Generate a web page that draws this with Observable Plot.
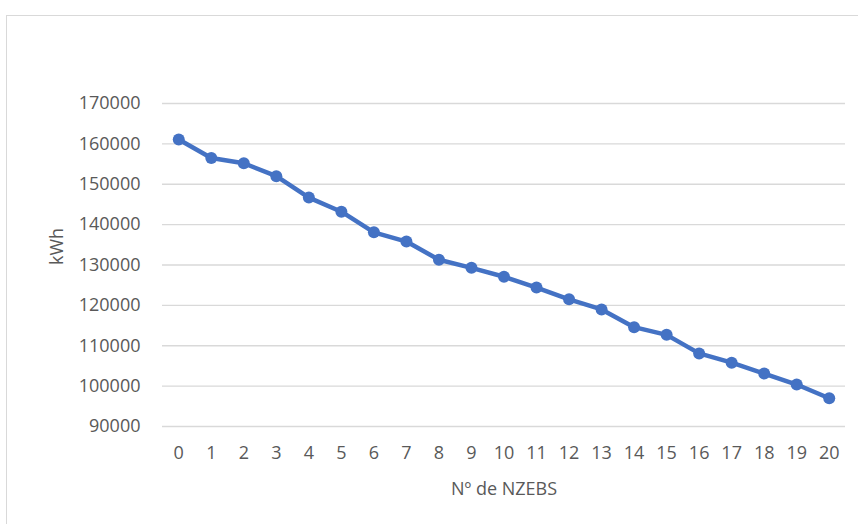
<!DOCTYPE html>
<html>
<head>
<meta charset="utf-8">
<script src="https://cdn.jsdelivr.net/npm/d3@7"></script>
<script src="https://cdn.jsdelivr.net/npm/@observablehq/plot@0.6"></script>
<style>
  html, body { margin: 0; padding: 0; background: #fff; overflow: hidden; }
  #wrap { position: relative; width: 858px; height: 524px; }
  #frame { position: absolute; left: 6px; top: 15px; width: 900px; height: 600px; border: 1px solid #d9d9d9; box-sizing: border-box; }
  #chart { position: absolute; left: 0; top: 0; }
</style>
</head>
<body>
<div id="wrap"><div id="frame"></div><div id="chart"></div></div>
<script>
const nzebs = [0, 1, 2, 3, 4, 5, 6, 7, 8, 9, 10, 11, 12, 13, 14, 15, 16, 17, 18, 19, 20];
const kwh = [161100, 156500, 155200, 152000, 146700, 143200, 138100, 135800, 131300, 129300, 127100, 124400, 121500, 119000, 114600, 112700, 108100, 105800, 103100, 100400, 97000];
const yTicks = [90000, 100000, 110000, 120000, 130000, 140000, 150000, 160000, 170000];
const xTitle = "Nº de NZEBS";
const yTitle = "kWh";

const data = nzebs.map((n, i) => ({n, v: kwh[i]}));
const font = "'Open Sans', sans-serif";
const grey = "#595959";
const blue = "#4472C4";

const plot = Plot.plot({
  width: 858,
  height: 524,
  marginLeft: 162,
  marginRight: 13,
  marginTop: 103,
  marginBottom: 98,
  style: {fontFamily: font, fontSize: "18px", color: grey, background: "transparent", overflow: "visible"},
  x: {type: "point", domain: nzebs, padding: 0.5, round: false},
  y: {domain: [90000, 170000]},
  marks: [
    Plot.gridY(yTicks, {stroke: "#d9d9d9", strokeOpacity: 1, strokeWidth: 1.3}),
    Plot.axisY({ticks: yTicks, tickSize: 0, tickPadding: 22, tickFormat: d => String(d), label: null, fill: grey, fontSize: 18}),
    Plot.axisX({tickSize: 0, tickPadding: 20, label: null, fill: grey, fontSize: 18}),
    Plot.line(data, {x: "n", y: "v", stroke: blue, strokeWidth: 4.5, strokeLinejoin: "round", strokeLinecap: "round"}),
    Plot.dot(data, {x: "n", y: "v", r: 6, fill: blue, stroke: null}),
    Plot.text([xTitle], {frameAnchor: "bottom", dy: 63, lineAnchor: "middle", fill: grey, fontSize: 18}),
    Plot.text([yTitle], {frameAnchor: "left", dx: -105, rotate: -90, lineAnchor: "middle", fill: grey, fontSize: 18})
  ]
});
document.getElementById("chart").appendChild(plot);
</script>
</body>
</html>
